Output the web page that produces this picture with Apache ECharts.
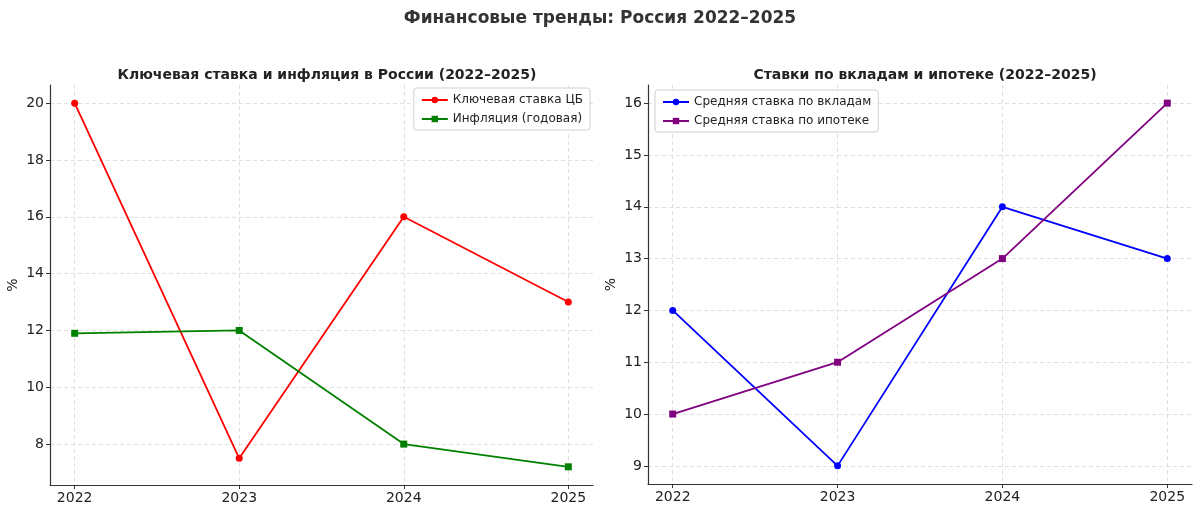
<!DOCTYPE html>
<html lang="ru">
<head>
  <meta charset="UTF-8">
  <script src="https://cdn.jsdelivr.net/npm/echarts@6/dist/echarts.min.js"></script>
  <title>Финансовые тренды</title>
  <style>
    html, body { margin: 0; padding: 0; background: #fff; }
    #chart { width: 1200px; height: 512px; }
  </style>
</head>
<body>
  <div id="chart"></div>
  <script>
    // данные
    const years = [2022, 2023, 2024, 2025];
    const keyRate = [20, 7.5, 16, 13];
    const inflation = [11.9, 12.0, 8.0, 7.2];
    const depositRate = [12, 9, 14, 13];
    const mortgageRate = [10, 11, 13, 16];
    const leftTicks = [8, 10, 12, 14, 16, 18, 20];
    const rightTicks = [9, 10, 11, 12, 13, 14, 15, 16];

    const font = 'DejaVu Sans';
    const chart = echarts.init(document.getElementById('chart'));

    const pairs = arr => arr.map((v, i) => [years[i], v]);

    function xAxis(idx) {
      return {
        type: 'value', gridIndex: idx, min: 2021.85, max: 2025.15,
        axisLine: { show: true, onZero: false, lineStyle: { color: '#333', width: 1.2 } },
        axisTick: { show: true, length: 4, customValues: years, lineStyle: { color: '#333' } },
        axisLabel: { customValues: years, formatter: v => String(v), color: '#222', fontSize: 14, fontFamily: font, margin: 6 },
        splitLine: { show: true, lineStyle: { color: '#d8d8d8', type: [4, 3], width: 0.8 } }
      };
    }
    function yAxis(idx, min, max, ticks) {
      return {
        type: 'value', gridIndex: idx, min: min, max: max,
        name: '%', nameLocation: 'middle', nameGap: 30, nameRotate: 90,
        nameTextStyle: { color: '#222', fontSize: 14, fontFamily: font },
        axisLine: { show: true, lineStyle: { color: '#333', width: 1.2 } },
        axisTick: { show: true, length: 4, customValues: ticks, lineStyle: { color: '#333' } },
        axisLabel: { customValues: ticks, formatter: v => String(v), color: '#222', fontSize: 14, fontFamily: font, margin: 6 },
        splitLine: { show: true, lineStyle: { color: '#d8d8d8', type: [4, 3], width: 0.8 } }
      };
    }
    function line(name, data, color, symbol, idx) {
      return {
        name: name, type: 'line', xAxisIndex: idx, yAxisIndex: idx,
        data: pairs(data), symbol: symbol, symbolSize: 7,
        lineStyle: { color: color, width: 1.8 },
        itemStyle: { color: color },
        animation: false
      };
    }

    chart.setOption({
      animation: false,
      title: [
        { text: 'Финансовые тренды: Россия 2022–2025', left: 'center', top: 5,
          textStyle: { fontFamily: font, fontSize: 17, fontWeight: 'bold', color: '#333' } },
        { text: 'Ключевая ставка и инфляция в России (2022–2025)', left: 322, top: 63, textAlign: 'center',
          textStyle: { fontFamily: font, fontSize: 14, fontWeight: 'bold', color: '#222' } },
        { text: 'Ставки по вкладам и ипотеке (2022–2025)', left: 920, top: 63, textAlign: 'center',
          textStyle: { fontFamily: font, fontSize: 14, fontWeight: 'bold', color: '#222' } }
      ],
      grid: [
        { left: 50, top: 85, width: 543, height: 400 },
        { left: 648, top: 85, width: 544, height: 399 }
      ],
      xAxis: [xAxis(0), xAxis(1)],
      yAxis: [yAxis(0, 6.56, 20.64, leftTicks), yAxis(1, 8.65, 16.35, rightTicks)],
      legend: [
        { data: ['Ключевая ставка ЦБ', 'Инфляция (годовая)'], orient: 'vertical',
          right: 1200 - 590, top: 88, itemWidth: 26, itemHeight: 8, itemGap: 7,
          backgroundColor: 'rgba(255,255,255,0.85)', borderColor: '#d0d0d0', borderWidth: 1, borderRadius: 3,
          padding: [6, 7, 5, 7],
          textStyle: { fontFamily: font, fontSize: 12, color: '#222' } },
        { data: ['Средняя ставка по вкладам', 'Средняя ставка по ипотеке'], orient: 'vertical',
          left: 655, top: 90, itemWidth: 26, itemHeight: 8, itemGap: 7,
          backgroundColor: 'rgba(255,255,255,0.85)', borderColor: '#d0d0d0', borderWidth: 1, borderRadius: 3,
          padding: [6, 7, 5, 7],
          textStyle: { fontFamily: font, fontSize: 12, color: '#222' } }
      ],
      series: [
        line('Ключевая ставка ЦБ', keyRate, '#ff0000', 'circle', 0),
        line('Инфляция (годовая)', inflation, '#008000', 'rect', 0),
        line('Средняя ставка по вкладам', depositRate, '#0000ff', 'circle', 1),
        line('Средняя ставка по ипотеке', mortgageRate, '#800080', 'rect', 1)
      ]
    });
  </script>
</body>
</html>
